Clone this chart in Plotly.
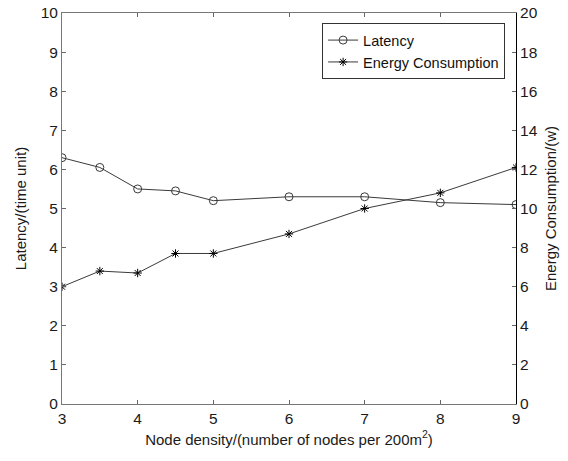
import plotly.graph_objects as go

node_density = [3, 3.5, 4, 4.5, 5, 6, 7, 8, 9]
latency = [6.3, 6.05, 5.5, 5.45, 5.2, 5.3, 5.3, 5.15, 5.1]
energy = [6.0, 6.8, 6.7, 7.7, 7.7, 8.7, 10.0, 10.8, 12.1]

x_ticks = [3, 4, 5, 6, 7, 8, 9]
y1_ticks = list(range(0, 11))
y2_ticks = list(range(0, 21, 2))

line_col = "#3a3a3a"
family = "Liberation Sans, Arial, sans-serif"
tick_font = dict(family=family, size=15.5, color="#1a1a1a")
title_font = dict(family=family, size=15, color="#1a1a1a")

fig = go.Figure()
fig.add_trace(go.Scatter(
    x=node_density, y=latency, name="Latency", mode="lines+markers",
    line=dict(color=line_col, width=1),
    marker=dict(symbol="circle-open", size=8, color=line_col, line=dict(width=1)),
    yaxis="y"))
fig.add_trace(go.Scatter(
    x=node_density, y=energy, name="Energy Consumption", mode="lines+markers",
    line=dict(color=line_col, width=1),
    marker=dict(symbol="asterisk-open", size=7, color="#000000", line=dict(width=1, color="#000000")),
    yaxis="y2"))

axis_common = dict(showgrid=False, zeroline=False, ticks="inside", ticklen=4,
                   tickcolor="#666666", linecolor="#777777", linewidth=1,
                   showline=True, tickfont=tick_font, automargin=False)

fig.update_layout(
    width=568, height=461,
    margin=dict(l=62, r=52, t=13, b=57),
    paper_bgcolor="white", plot_bgcolor="white",
    font=dict(family=family, size=14, color="#1a1a1a"),
    xaxis=dict(range=[3, 9], tickvals=x_ticks, mirror="ticks",
               title=dict(text="Node density/(number of nodes per 200m<sup>2</sup>)",
                          font=title_font, standoff=8),
               **axis_common),
    yaxis=dict(range=[0, 10], tickvals=y1_ticks,
               title=dict(text="Latency/(time unit)", font=title_font, standoff=10),
               **axis_common),
    yaxis2=dict(range=[0, 20], tickvals=y2_ticks, overlaying="y", side="right",
                title=dict(text="Energy Consumption/(w)", font=title_font, standoff=8),
                **{**axis_common, "linecolor": "#000000"}),
    legend=dict(x=0.976, y=0.974, xanchor="right", yanchor="top",
                bgcolor="white", bordercolor="#333333", borderwidth=1,
                font=dict(family=family, size=14.5, color="#111111"),
                tracegroupgap=0, itemwidth=30),
    showlegend=True,
)

fig.write_html("out.html", config={"displayModeBar": False},
               post_script="document.body.style.margin='0px';document.body.style.overflow='hidden';")
